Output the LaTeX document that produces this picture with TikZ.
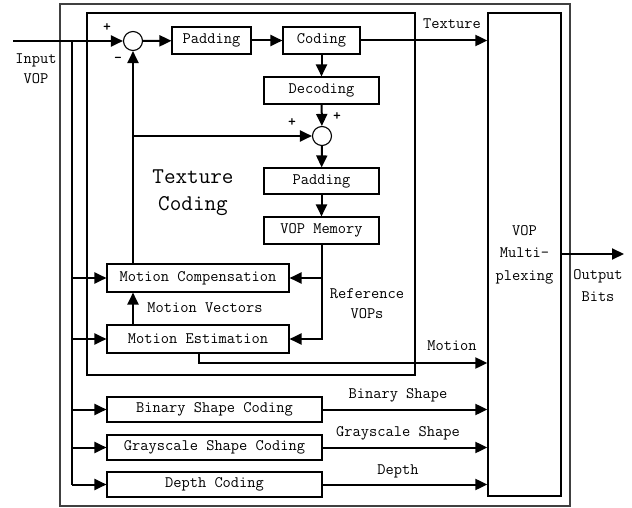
\documentclass[tikz,border=0pt]{standalone}
\usepackage{fontspec}
\usetikzlibrary{arrows.meta}

\begin{document}
\begin{tikzpicture}[x=1pt, y=-1pt,
  every node/.style={font=\ttfamily\fontsize{16}{20}\selectfont, inner sep=1pt},
  block/.style={draw, line width=1.1pt, minimum height=27pt},
  sum/.style={circle, draw, line width=1.1pt, minimum size=19pt, inner sep=0pt},
  arr/.style={line width=2pt, -{Triangle[length=12pt,width=11pt]}},
  wire/.style={line width=2pt},
  sign/.style={font=\ttfamily\bfseries\fontsize{15}{15}\selectfont}]
  \useasboundingbox (0,0) rectangle (632,508);

  % Frames: whole encoder and the texture part
  \draw[line width=1.2pt, black!75] (60,4) rectangle (570,506);
  \draw[line width=1.4pt] (87,13) rectangle (415,375);

  % Texture coding loop
  \node[sum] (sum1) at (133,41) {};
  \node[block, minimum width=79pt] (pad1) at (211.5,40.5) {Padding};
  \node[block, minimum width=77pt] (coding) at (321.5,40.5) {Coding};
  \node[block, minimum width=115pt] (decoding) at (321.5,90.5) {Decoding};
  \node[sum] (sum2) at (322,136) {};
  \node[block, minimum width=115pt, minimum height=26pt] (pad2) at (321.5,181) {Padding};
  \node[block, minimum width=115pt] (mem) at (321.5,230.5) {VOP Memory};
  \node[block, minimum width=182pt, minimum height=28pt] (mc) at (198,278) {Motion Compensation};
  \node[block, minimum width=182pt, minimum height=28pt] (me) at (198,339) {Motion Estimation};

  % Shape and depth coders
  \node[block, minimum width=215pt, minimum height=25pt] (binary) at (214.5,409.5) {Binary Shape Coding};
  \node[block, minimum width=215pt, minimum height=25pt] (gray) at (214.5,447.5) {Grayscale Shape Coding};
  \node[block, minimum width=215pt, minimum height=25pt] (depth) at (214.5,484.5) {Depth Coding};

  % Multiplexer
  \node[draw, line width=1.3pt, minimum width=73pt, minimum height=483pt, align=center,
        font=\ttfamily\fontsize{16}{22.5}\selectfont] (mux) at (524.5,254.5) {VOP\\Multi-\\plexing};

  % Labels
  \node[align=center] (inp) at (36,69) {Input\\VOP};
  \node[align=center, font=\ttfamily\fontsize{16}{22}\selectfont] (outb) at (598,286) {Output\\Bits};
  \node[align=center] (refv) at (367,304) {Reference\\VOPs};
  \node[align=center, font=\ttfamily\fontsize{22.5}{27}\selectfont] (title) at (193,193) {Texture\\Coding};
  \node (ltex) at (452,24) {Texture};
  \node (lmv) at (205,308) {Motion Vectors};
  \node (lmot) at (452,346) {Motion};
  \node (lbin) at (398,395) {Binary Shape};
  \node (lgray) at (398,433) {Grayscale Shape};
  \node (ldep) at (398,471) {Depth};

  % Signs at the adders
  \node[sign] (p1) at (107,28) {+};
  \node[sign] (m1) at (118,60) {-};
  \node[sign] (p2) at (292,123) {+};
  \node[sign] (p3) at (337,117) {+};

  % Ends of the free wires
  \coordinate (in) at (13,41);
  \coordinate (bus) at (72,41);
  \coordinate (mvout) at (199,363);
  \coordinate (out) at (624,254);

  % Input bus
  \draw[arr] (in) -- (sum1);
  \draw[wire] (bus) -- (bus |- depth);
  \foreach \b in {mc, me, binary, gray, depth}
    \draw[arr] (bus |- \b) -- (\b);

  % Forward path
  \draw[arr] (sum1) -- (pad1);
  \draw[arr] (pad1) -- (coding);
  \draw[arr] (coding) -- (decoding);
  \draw[arr] (decoding) -- (sum2);
  \draw[arr] (sum2) -- (pad2);
  \draw[arr] (pad2) -- (mem);

  % Prediction feedback
  \draw[arr] (sum1 |- mc.north) -- (sum1);
  \draw[arr] (sum1 |- sum2) -- (sum2);
  \draw[arr] (mem) |- (me);
  \draw[arr] (mem |- mc) -- (mc);
  \draw[arr] (me.north -| sum1) -- (mc.south -| sum1);

  % Into the multiplexer
  \draw[arr] (coding) -- (coding -| mux.west);
  \draw[arr] (me.south -| mvout) -- (mvout) -- (mvout -| mux.west);
  \draw[arr] (binary) -- (binary -| mux.west);
  \draw[arr] (gray) -- (gray -| mux.west);
  \draw[arr] (depth) -- (depth -| mux.west);
  \draw[arr] (mux.east |- out) -- (out);
\end{tikzpicture}
\end{document}
